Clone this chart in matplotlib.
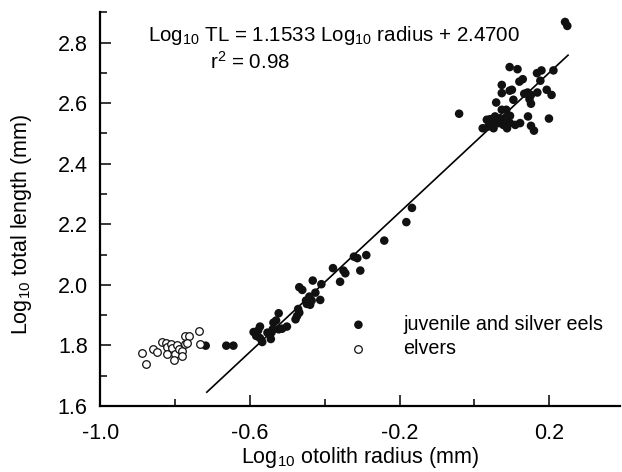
import numpy as np
import matplotlib.pyplot as plt
from matplotlib.ticker import MultipleLocator, FixedLocator

plt.rcParams['font.family'] = ['Liberation Sans', 'DejaVu Sans']
plt.rcParams['mathtext.default'] = 'regular'

# juvenile and silver eels (filled)
juv_x = [-0.718, -0.663, -0.644,
         -0.590, -0.583, -0.578, -0.573, -0.573, -0.567, -0.553, -0.544, -0.542,
         -0.539, -0.537, -0.530, -0.523, -0.523, -0.514, -0.501, -0.478, -0.474,
         -0.468, -0.471, -0.448, -0.439, -0.450, -0.435, -0.412, -0.441, -0.425,
         -0.468, -0.460, -0.432, -0.409, -0.359, -0.378, -0.350, -0.345, -0.305,
         -0.322, -0.313, -0.289, -0.241, -0.182, -0.167, -0.041,
         0.242, 0.248, 0.094, 0.115, 0.167, 0.179, 0.211, 0.073, 0.120, 0.129,
         0.176, 0.094, 0.100, 0.073, 0.193, 0.206, 0.133, 0.142, 0.151, 0.168,
         0.147, 0.151, 0.104, 0.058, 0.085, 0.095, 0.073, 0.055, 0.042, 0.069,
         0.082, 0.033, 0.049, 0.064, 0.077, 0.095, 0.109, 0.122, 0.022, 0.037,
         0.051, 0.087, 0.143, 0.199, 0.151, 0.159]
juv_y = [1.799, 1.799, 1.799,
         1.844, 1.831, 1.849, 1.862, 1.824, 1.811, 1.842, 1.821, 1.843,
         1.853, 1.875, 1.882, 1.906, 1.853, 1.855, 1.862, 1.886, 1.897,
         1.908, 1.920, 1.937, 1.934, 1.948, 1.948, 1.950, 1.961, 1.974,
         1.992, 1.983, 2.014, 2.002, 2.010, 2.055, 2.047, 2.038, 2.047,
         2.093, 2.088, 2.098, 2.146, 2.207, 2.254, 2.565,
         2.868, 2.855, 2.719, 2.712, 2.699, 2.708, 2.708, 2.660, 2.671, 2.679,
         2.674, 2.641, 2.644, 2.633, 2.644, 2.627, 2.631, 2.635, 2.627, 2.635,
         2.613, 2.598, 2.611, 2.602, 2.578, 2.558, 2.578, 2.556, 2.547, 2.550,
         2.550, 2.545, 2.536, 2.534, 2.528, 2.534, 2.528, 2.534, 2.517, 2.523,
         2.517, 2.517, 2.556, 2.549, 2.525, 2.509]

# elvers (open)
elv_x = [-0.889, -0.877, -0.860, -0.849, -0.834, -0.824, -0.822, -0.822, -0.811,
         -0.809, -0.800, -0.802, -0.794, -0.788, -0.782, -0.781, -0.774, -0.763,
         -0.773, -0.767, -0.735, -0.733]
elv_y = [1.775, 1.737, 1.788, 1.779, 1.812, 1.809, 1.794, 1.770, 1.803,
         1.791, 1.770, 1.752, 1.802, 1.789, 1.783, 1.766, 1.830, 1.830,
         1.806, 1.808, 1.847, 1.806]

# regression
slope = 1.1533
intercept = 2.4700
fit_range = [-0.715, 0.25]

fig = plt.figure(figsize=(6.22, 4.72), dpi=100)
ax = fig.add_axes([0.161, 0.14, 0.8365, 0.834])

fx = np.array(fit_range)
ax.plot(fx, slope * fx + intercept, color='black', lw=1.2, zorder=1)

ax.scatter(juv_x, juv_y, s=38, color='#111111', edgecolors='none', zorder=3)
ax.scatter(elv_x, elv_y, s=30, facecolors='white', edgecolors='#111111',
           linewidths=0.9, zorder=3)

ax.set_xlim(-1.0, 0.39)
ax.set_ylim(1.6, 2.9)
ax.xaxis.set_major_locator(FixedLocator([-1.0, -0.6, -0.2, 0.2]))
ax.xaxis.set_minor_locator(FixedLocator([-0.8, -0.4, 0.0]))
ax.yaxis.set_major_locator(FixedLocator([1.6, 1.8, 2.0, 2.2, 2.4, 2.6, 2.8]))
ax.yaxis.set_minor_locator(MultipleLocator(0.1))
ax.set_xticklabels(['-1.0', '-0.6', '-0.2', '0.2'])
ax.set_yticklabels(['1.6', '1.8', '2.0', '2.2', '2.4', '2.6', '2.8'])

for s in ['top', 'right']:
    ax.spines[s].set_visible(False)
for s in ['left', 'bottom']:
    ax.spines[s].set_linewidth(1.6)

ax.tick_params(which='both', direction='in', width=1.1, labelsize=15.5)
ax.tick_params(axis='x', which='major', length=8, pad=12)
ax.tick_params(axis='y', which='major', length=8, pad=9)
ax.tick_params(which='minor', length=5)

ax.set_xlabel('Log$_{10}$ otolith radius (mm)', fontsize=15.5, labelpad=1)
ax.set_ylabel('Log$_{10}$ total length (mm)', fontsize=15.5)
ax.yaxis.set_label_coords(-0.128, 0.46)

ax.text(0.092, 0.94, 'Log$_{10}$ TL = 1.1533 Log$_{10}$ radius + 2.4700',
        transform=ax.transAxes, fontsize=14.8, va='center', ha='left')
ax.text(0.211, 0.874, 'r$^2$ = 0.98', transform=ax.transAxes,
        fontsize=14.8, va='center', ha='left')

ax.scatter([-0.31], [1.868], s=38, color='#111111', edgecolors='none')
ax.scatter([-0.31], [1.788], s=30, facecolors='white', edgecolors='#111111',
           linewidths=0.9)
ax.text(-0.19, 1.868, 'juvenile and silver eels', fontsize=14.2, va='center')
ax.text(-0.19, 1.788, 'elvers', fontsize=14.2, va='center')

fig.savefig('out.png', dpi=100)
